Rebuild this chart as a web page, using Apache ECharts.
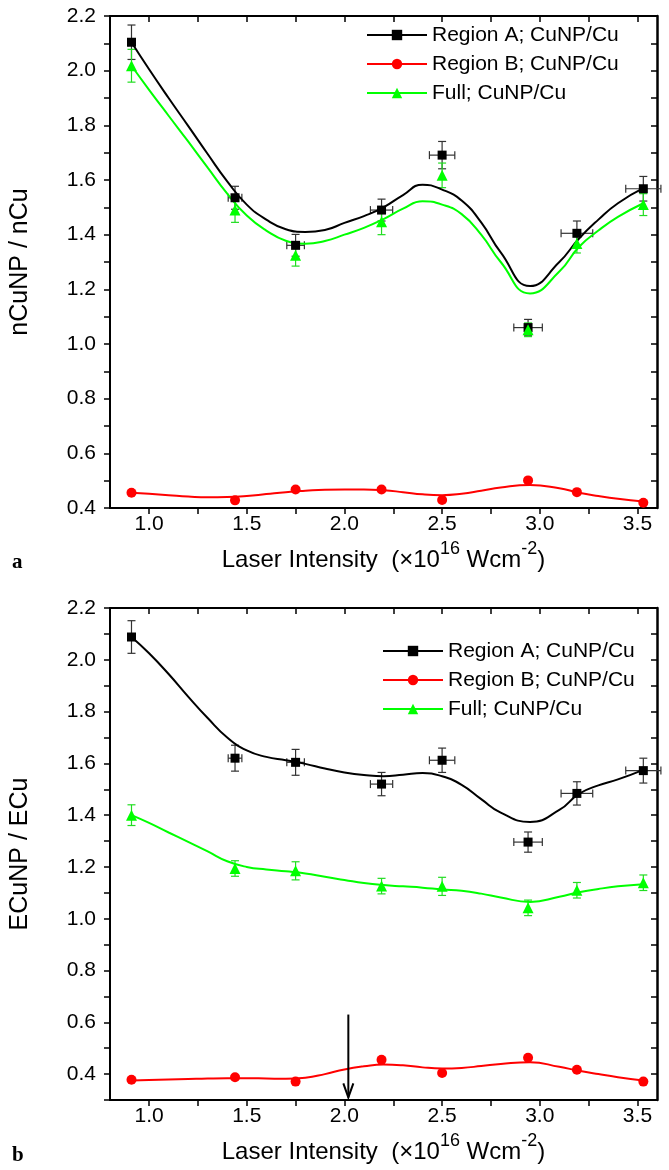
<!DOCTYPE html>
<html>
<head>
<meta charset="utf-8">
<script src="https://cdn.jsdelivr.net/npm/echarts@6/dist/echarts.min.js"></script>
<style>
  html, body { margin: 0; padding: 0; background: #fff; }
  #chart { width: 669px; height: 1170px; }
</style>
</head>
<body>
<div id="chart"></div>
<script>
// ── measured points (laser intensity, x10^16 W/cm2) ──
const X_PTS = [0.91, 1.44, 1.75, 2.19, 2.5, 2.94, 3.19, 3.53];
const X_ERR = [0.015, 0.035, 0.045, 0.057, 0.065, 0.073, 0.081, 0.09];

// panel a: nCuNP / nCu
const N_A = [2.104, 1.535, 1.361, 1.490, 1.691, 1.060, 1.405, 1.568];
const N_B = [0.456, 0.428, 0.468, 0.468, 0.429, 0.501, 0.458, 0.419];
const N_F = [2.018, 1.490, 1.325, 1.447, 1.617, 1.052, 1.368, 1.510];
const N_A_YERR = [0.063, 0.042, 0.04, 0.04, 0.05, 0.03, 0.045, 0.045];
const N_F_YERR = [0.06, 0.045, 0.04, 0.047, 0.045, 0.025, 0.035, 0.04];

// panel b: ECuNP / ECu
const E_A = [2.088, 1.620, 1.604, 1.520, 1.612, 1.296, 1.484, 1.572];
const E_B = [0.378, 0.388, 0.371, 0.455, 0.404, 0.463, 0.417, 0.371];
const E_F = [1.400, 1.194, 1.185, 1.126, 1.125, 1.042, 1.110, 1.139];
const E_A_YERR = [0.063, 0.05, 0.05, 0.045, 0.047, 0.039, 0.045, 0.048];
const E_F_YERR = [0.04, 0.03, 0.035, 0.03, 0.035, 0.03, 0.03, 0.03];

// smoothed fit curves
const FIT_X = [0.91, 1.0, 1.1, 1.2, 1.3, 1.4, 1.5, 1.6, 1.7, 1.8, 1.9, 2.0, 2.1, 2.2,
               2.3, 2.4, 2.5, 2.6, 2.7, 2.8, 2.95, 3.1, 3.2, 3.3, 3.4, 3.53];
const FIT_N_A = [2.104, 2.005, 1.900, 1.798, 1.695, 1.595, 1.510, 1.455, 1.420, 1.410, 1.417, 1.443, 1.468, 1.500,
                 1.545, 1.583, 1.565, 1.525, 1.445, 1.335, 1.212, 1.300, 1.385, 1.455, 1.515, 1.570];
const FIT_N_B = [0.456, 0.452, 0.447, 0.442, 0.439, 0.440, 0.444, 0.451, 0.458, 0.463, 0.467, 0.468, 0.468, 0.465,
                 0.458, 0.450, 0.447, 0.452, 0.463, 0.475, 0.484, 0.472, 0.456, 0.444, 0.434, 0.424];
const FIT_N_F = [2.018, 1.930, 1.835, 1.741, 1.645, 1.550, 1.470, 1.415, 1.378, 1.367, 1.377, 1.400, 1.425, 1.457,
                 1.495, 1.522, 1.510, 1.475, 1.400, 1.300, 1.185, 1.265, 1.355, 1.415, 1.465, 1.515];
const FIT_E_A = [2.088, 2.025, 1.945, 1.858, 1.775, 1.700, 1.650, 1.625, 1.612, 1.598, 1.580, 1.565, 1.555, 1.550,
                 1.556, 1.563, 1.550, 1.517, 1.462, 1.410, 1.374, 1.420, 1.482, 1.515, 1.538, 1.575];
const FIT_E_B = [0.375, 0.377, 0.379, 0.381, 0.383, 0.384, 0.384, 0.383, 0.382, 0.386, 0.400, 0.418, 0.430, 0.437,
                 0.434, 0.426, 0.422, 0.424, 0.431, 0.439, 0.446, 0.428, 0.413, 0.400, 0.388, 0.375];
const FIT_E_F = [1.400, 1.370, 1.333, 1.297, 1.260, 1.222, 1.200, 1.190, 1.183, 1.175, 1.162, 1.150, 1.138, 1.130,
                 1.125, 1.120, 1.113, 1.108, 1.097, 1.082, 1.065, 1.085, 1.102, 1.115, 1.125, 1.133];

// arrow in panel b: [x, yStart, yEnd]
const ARROW = [2.02, 0.63, 0.31];

// ticks
const X_TICKS  = [1.0, 1.25, 1.5, 1.75, 2.0, 2.25, 2.5, 2.75, 3.0, 3.25, 3.5];
const X_LABELS = [1.0, 1.5, 2.0, 2.5, 3.0, 3.5];
const Y_TICKS_A = [0.4, 0.5, 0.6, 0.7, 0.8, 0.9, 1.0, 1.1, 1.2, 1.3, 1.4, 1.5, 1.6, 1.7, 1.8, 1.9, 2.0, 2.1, 2.2];
const Y_TICKS_B = [0.3, 0.4, 0.5, 0.6, 0.7, 0.8, 0.9, 1.0, 1.1, 1.2, 1.3, 1.4, 1.5, 1.6, 1.7, 1.8, 1.9, 2.0, 2.1, 2.2];
const Y_LABELS  = [0.4, 0.6, 0.8, 1.0, 1.2, 1.4, 1.6, 1.8, 2.0, 2.2];

const NAMES = ['Region A; CuNP/Cu', 'Region B; CuNP/Cu', 'Full; CuNP/Cu'];
const COLORS = ['#000000', '#ff0000', '#00ff00'];
const SYMBOLS = ['rect', 'circle', 'triangle'];
const SIZES = [9, 10, 11];

const FONT = 'Liberation Sans, Arial, sans-serif';
const X_NAME = '{t|Laser Intensity  (\u00d710}{s|16}{t| Wcm}{s|-2}{t|)}';

function xAxes(gi) {
  const line = { onZero: false, lineStyle: { color: '#000', width: 2 } };
  return [{
    type: 'value', gridIndex: gi, position: 'bottom', min: 0.8, max: 3.6,
    name: X_NAME, nameLocation: 'middle', nameGap: 32,
    nameTextStyle: {
      rich: {
        t: { fontSize: 24, fontFamily: FONT, color: '#000', lineHeight: 32, verticalAlign: 'bottom' },
        s: { fontSize: 18, fontFamily: FONT, color: '#000', lineHeight: 18, verticalAlign: 'top' },
      },
    },
    axisLine: line,
    axisTick: { customValues: X_TICKS, length: 6, lineStyle: { color: '#000', width: 1.5 } },
    axisLabel: { customValues: X_LABELS, formatter: v => v.toFixed(1), fontSize: 21, fontFamily: FONT, color: '#000', margin: 6 },
    splitLine: { show: false },
  }, {
    type: 'value', gridIndex: gi, position: 'top', min: 0.8, max: 3.6,
    axisLine: line,
    axisTick: { customValues: X_TICKS, inside: true, length: 6, lineStyle: { color: '#000', width: 1.5 } },
    axisLabel: { show: false },
    splitLine: { show: false },
  }];
}

function yAxes(gi, min, ticks, name) {
  const line = { onZero: false, lineStyle: { color: '#000', width: 2 } };
  return [{
    type: 'value', gridIndex: gi, position: 'left', min: min, max: 2.2,
    name: name, nameLocation: 'middle', nameGap: 77,
    nameTextStyle: { fontSize: 25, fontFamily: FONT, color: '#000' },
    axisLine: line,
    axisTick: { customValues: ticks, length: 6, lineStyle: { color: '#000', width: 1.5 } },
    axisLabel: { customValues: Y_LABELS, formatter: v => v.toFixed(1), fontSize: 21, fontFamily: FONT, color: '#000', margin: 14 },
    splitLine: { show: false },
  }, {
    type: 'value', gridIndex: gi, position: 'right', min: min, max: 2.2,
    axisLine: { onZero: false, lineStyle: { color: '#000', width: 2.5 } },
    axisTick: { customValues: ticks, inside: true, length: 6, lineStyle: { color: '#000', width: 1.5 } },
    axisLabel: { show: false },
    splitLine: { show: false },
  }];
}

function errorBars(ai, vals, yErr, xErr, color) {
  return {
    type: 'custom', xAxisIndex: ai * 2, yAxisIndex: ai * 2, silent: true, z: 2,
    data: X_PTS.map((x, i) => [x, vals[i], yErr[i], xErr ? xErr[i] : 0]),
    encode: { x: 0, y: 1 },
    renderItem(params, api) {
      const x = api.value(0), y = api.value(1), ey = api.value(2), ex = api.value(3);
      const c = api.coord([x, y]);
      const t = api.coord([x, y + ey])[1], b = api.coord([x, y - ey])[1];
      const l = api.coord([x - ex, y])[0], r = api.coord([x + ex, y])[0];
      const cap = 4;
      const st = { stroke: color, lineWidth: 1.2 };
      const kids = [
        { type: 'line', shape: { x1: c[0], y1: t, x2: c[0], y2: b }, style: st },
        { type: 'line', shape: { x1: c[0] - cap, y1: t, x2: c[0] + cap, y2: t }, style: st },
        { type: 'line', shape: { x1: c[0] - cap, y1: b, x2: c[0] + cap, y2: b }, style: st },
      ];
      if (ex > 0) {
        kids.push(
          { type: 'line', shape: { x1: l, y1: c[1], x2: r, y2: c[1] }, style: st },
          { type: 'line', shape: { x1: l, y1: c[1] - cap, x2: l, y2: c[1] + cap }, style: st },
          { type: 'line', shape: { x1: r, y1: c[1] - cap, x2: r, y2: c[1] + cap }, style: st }
        );
      }
      return { type: 'group', children: kids };
    },
  };
}

function fitLine(ai, k, vals) {
  return {
    type: 'line', name: NAMES[k], xAxisIndex: ai * 2, yAxisIndex: ai * 2, z: 3,
    data: FIT_X.map((x, i) => [x, vals[i]]),
    smooth: 0.5, showSymbol: false, symbol: SYMBOLS[k],
    lineStyle: { color: COLORS[k], width: 2 },
    itemStyle: { color: COLORS[k] },
  };
}

function points(ai, k, vals) {
  return {
    type: 'scatter', name: 'pts' + ai + k, xAxisIndex: ai * 2, yAxisIndex: ai * 2, z: 4,
    data: X_PTS.map((x, i) => [x, vals[i]]),
    symbol: SYMBOLS[k], symbolSize: SIZES[k],
    itemStyle: { color: COLORS[k], opacity: 1 },
  };
}

const arrowSeries = {
  type: 'custom', xAxisIndex: 2, yAxisIndex: 2, silent: true, z: 5,
  data: [ARROW],
  renderItem(params, api) {
    const p0 = api.coord([api.value(0), api.value(1)]);
    const p1 = api.coord([api.value(0), api.value(2)]);
    const st = { stroke: '#000', lineWidth: 2, fill: null };
    return {
      type: 'group', children: [
        { type: 'line', shape: { x1: p0[0], y1: p0[1], x2: p1[0], y2: p1[1] }, style: st },
        { type: 'polyline', shape: { points: [[p1[0] - 5, p1[1] - 14], [p1[0], p1[1]], [p1[0] + 5, p1[1] - 14]] }, style: st },
      ],
    };
  },
};

const legendBase = {
  data: NAMES, orient: 'vertical', itemWidth: 60, itemHeight: 13, itemGap: 7, padding: 0,
  selectedMode: false,
  textStyle: { fontSize: 21, fontFamily: FONT, color: '#000', lineHeight: 22 },
};

const chart = echarts.init(document.getElementById('chart'));
chart.setOption({
  animation: false,
  backgroundColor: '#fff',
  textStyle: { fontFamily: FONT },
  grid: [
    { left: 110, top: 16, width: 547, height: 492 },
    { left: 110, top: 608, width: 547, height: 492 },
  ],
  xAxis: [...xAxes(0), ...xAxes(1)],
  yAxis: [...yAxes(0, 0.4, Y_TICKS_A, 'nCuNP / nCu'), ...yAxes(1, 0.3, Y_TICKS_B, 'ECuNP / ECu')],
  legend: [
    Object.assign({}, legendBase, { left: 366, top: 24 }),
    Object.assign({}, legendBase, { left: 382, top: 640 }),
  ],
  graphic: [
    { type: 'text', left: 12, top: 552, style: { text: 'a', font: 'bold 21px "Liberation Serif", serif', fill: '#000' } },
    { type: 'text', left: 12, top: 1145, style: { text: 'b', font: 'bold 21px "Liberation Serif", serif', fill: '#000' } },
  ],
  series: [
    fitLine(0, 0, FIT_N_A), fitLine(0, 1, FIT_N_B), fitLine(0, 2, FIT_N_F),
    fitLine(1, 0, FIT_E_A), fitLine(1, 1, FIT_E_B), fitLine(1, 2, FIT_E_F),
    errorBars(0, N_A, N_A_YERR, X_ERR, '#333333'),
    errorBars(0, N_F, N_F_YERR, null, '#22dd22'),
    errorBars(1, E_A, E_A_YERR, X_ERR, '#333333'),
    errorBars(1, E_F, E_F_YERR, null, '#22dd22'),
    points(0, 0, N_A), points(0, 1, N_B), points(0, 2, N_F),
    points(1, 0, E_A), points(1, 1, E_B), points(1, 2, E_F),
    arrowSeries,
  ],
});
</script>
</body>
</html>
